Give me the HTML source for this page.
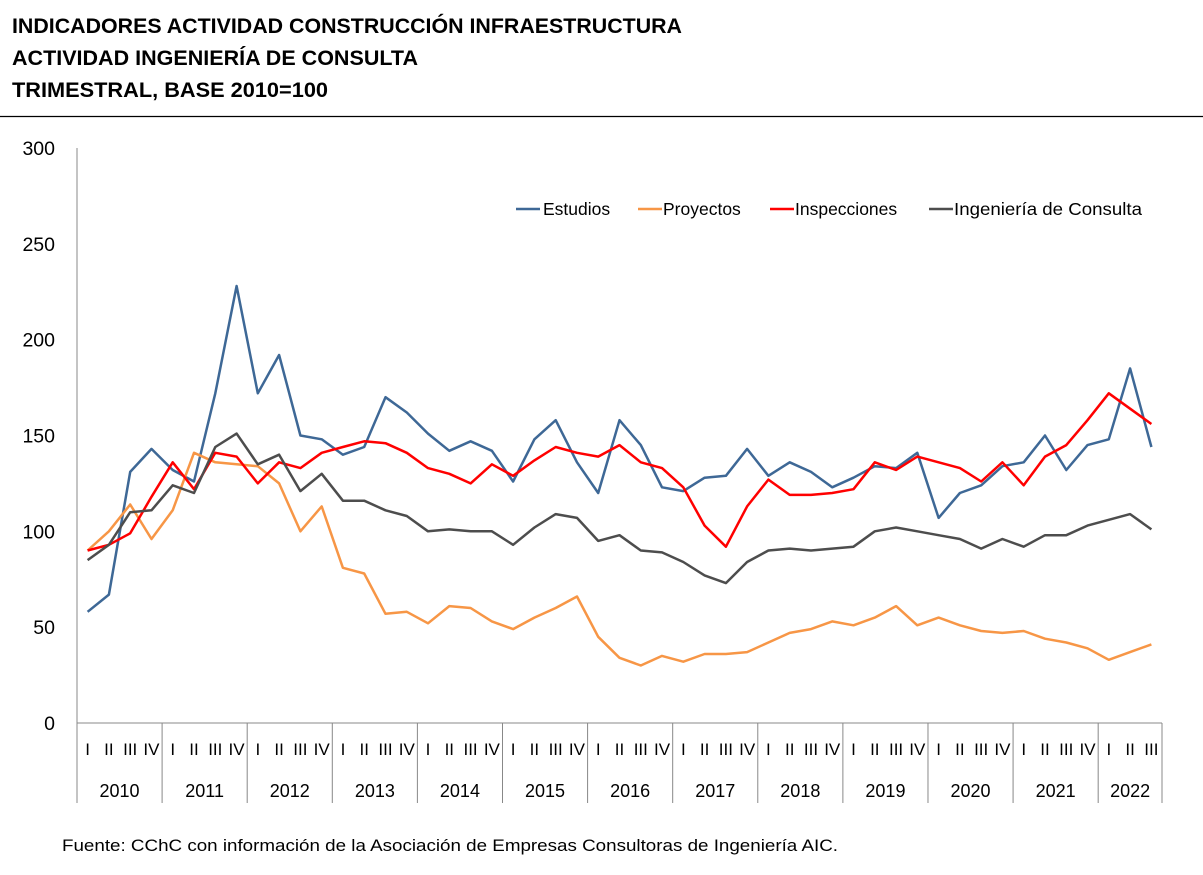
<!DOCTYPE html>
<html><head><meta charset="utf-8"><style>
body{margin:0;background:#fff;width:1203px;height:870px;overflow:hidden;font-family:"Liberation Sans",sans-serif}
</style></head><body>
<svg width="1203" height="870" xmlns="http://www.w3.org/2000/svg" font-family="Liberation Sans, sans-serif">
<g font-weight="bold" font-size="21" fill="#000">
<text x="12" y="33" textLength="670" lengthAdjust="spacingAndGlyphs">INDICADORES ACTIVIDAD CONSTRUCCIÓN INFRAESTRUCTURA</text>
<text x="12" y="65" textLength="406" lengthAdjust="spacingAndGlyphs">ACTIVIDAD INGENIERÍA DE CONSULTA</text>
<text x="12" y="97" textLength="316" lengthAdjust="spacingAndGlyphs">TRIMESTRAL, BASE 2010=100</text>
</g>
<line x1="0" y1="116.5" x2="1203" y2="116.5" stroke="#000" stroke-width="1.2"/>
<g id="axes"></g>
<g id="series"></g>
<g font-size="17.5">
<g><line x1="516" y1="209" x2="540" y2="209" stroke="#3e6896" stroke-width="2.5"/><text x="543" y="215">Estudios</text></g>
<g><line x1="638" y1="209" x2="662" y2="209" stroke="#f79646" stroke-width="2.5"/><text x="663" y="215">Proyectos</text></g>
<g><line x1="770" y1="209" x2="794" y2="209" stroke="#ff0000" stroke-width="2.5"/><text x="795" y="215">Inspecciones</text></g>
<g><line x1="929" y1="209" x2="953" y2="209" stroke="#4d4d4d" stroke-width="2.5"/><text x="954" y="215" textLength="188" lengthAdjust="spacingAndGlyphs">Ingeniería de Consulta</text></g>
</g>
<text x="62" y="851" font-size="17" textLength="776" lengthAdjust="spacingAndGlyphs">Fuente: CChC con información de la Asociación de Empresas Consultoras de Ingeniería AIC.</text>
</svg>
<script>
const years=["2010","2011","2012","2013","2014","2015","2016","2017","2018","2019","2020","2021","2022"];
const quarters=["I","II","III","IV"];
const yTicks=[0,50,100,150,200,250,300];
const estudios=[58,67,131,143,132,126,172,228,172,192,150,148,140,144,170,162,151,142,147,142,126,148,158,136,120,158,145,123,121,128,129,143,129,136,131,123,128,134,133,141,107,120,124,134,136,150,132,145,148,185,144];
const proyectos=[90,100,114,96,111,141,136,135,134,125,100,113,81,78,57,58,52,61,60,53,49,55,60,66,45,34,30,35,32,36,36,37,42,47,49,53,51,55,61,51,55,51,48,47,48,44,42,39,33,37,41];
const inspecciones=[90,93,99,118,136,122,141,139,125,136,133,141,144,147,146,141,133,130,125,135,129,137,144,141,139,145,136,133,123,103,92,113,127,119,119,120,122,136,132,139,136,133,126,136,124,139,145,158,172,164,156];
const ingenieria=[85,93,110,111,124,120,144,151,135,140,121,130,116,116,111,108,100,101,100,100,93,102,109,107,95,98,90,89,84,77,73,84,90,91,90,91,92,100,102,100,98,96,91,96,92,98,98,103,106,109,101];
const NS="http://www.w3.org/2000/svg";
const X0=77,X1=1162,Y0=723,Y1=148,N=estudios.length,W=(X1-X0)/N;
const xs=i=>X0+W*(i+0.5);
const ys=v=>Y0-(v/300)*(Y0-Y1);
function mk(t,a,p){const e=document.createElementNS(NS,t);for(const k in a)e.setAttribute(k,a[k]);p.appendChild(e);return e;}
const ax=document.getElementById('axes');
let yl=mk('line',{x1:X0,y1:Y1,x2:X0,y2:803,stroke:'#888','stroke-width':1},ax);


let xl=mk('line',{x1:X0,y1:Y0,x2:X1,y2:Y0,stroke:'#888','stroke-width':1},ax);


yTicks.forEach(v=>{const t=mk('text',{x:55,y:ys(v)+7,'text-anchor':'end','font-size':19.5},ax);t.textContent=v;

});
let idx=0;
years.forEach((yr,yi)=>{
  const nq=Math.min(4,N-idx);const start=X0+W*idx;const end=start+W*nq;
  for(let q=0;q<nq;q++){const t=mk('text',{x:xs(idx+q),y:755,'text-anchor':'middle','font-size':17},ax);t.textContent=quarters[q];
  
  }
  const t=mk('text',{x:(start+end)/2,y:797,'text-anchor':'middle','font-size':18},ax);t.textContent=yr;
  
  
  const l=mk('line',{x1:end,y1:Y0,x2:end,y2:803,stroke:'#888','stroke-width':1},ax);
  
  
  idx+=nq;
});
const sg=document.getElementById('series');
[[estudios,'#3e6896','line-estudios'],[proyectos,'#f79646','line-proyectos'],[inspecciones,'#ff0000','line-inspecciones'],[ingenieria,'#4d4d4d','line-ingenieria']].forEach(([d,c,n])=>{
  const p=mk('polyline',{points:d.map((v,i)=>xs(i).toFixed(1)+','+ys(v).toFixed(1)).join(' '),fill:'none',stroke:c,'stroke-width':2.5,'stroke-linejoin':'round'},sg);
  
  
});
</script>
</body></html>
